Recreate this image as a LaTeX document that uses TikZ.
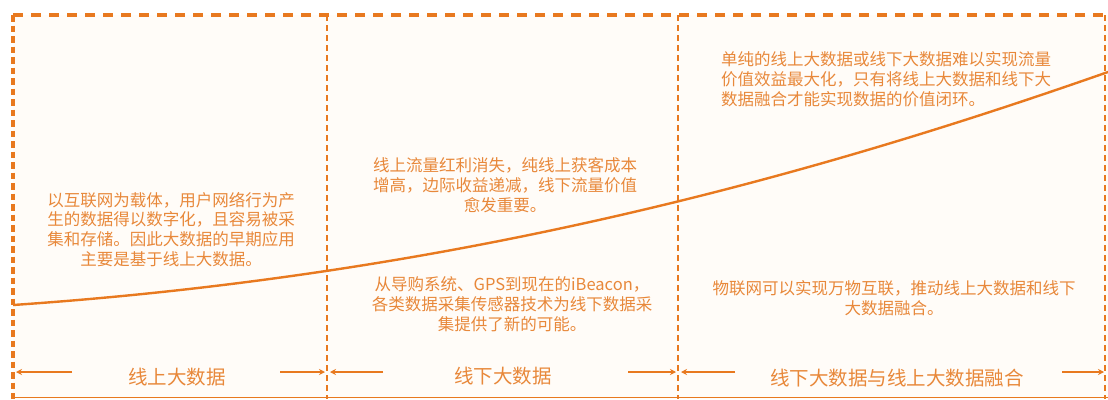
\documentclass[tikz,border=0pt]{standalone}
\usepackage{fontspec}
\newfontfamily\cjk{Noto Sans CJK SC}
\usetikzlibrary{arrows.meta,positioning}
\definecolor{amber}{HTML}{E8791F}
\definecolor{amberText}{HTML}{E8883A}
\definecolor{cream}{HTML}{FFFCF8}

\begin{document}
\begin{tikzpicture}[x=1pt, y=-1pt,
        noteText/.style={font=\cjk\fontsize{16.5}{19.8}\selectfont, text=amberText, align=center, inner sep=0pt},
        stageLabel/.style={font=\cjk\fontsize{19.5}{22}\selectfont, text=amberText, inner sep=0pt},
        frameLine/.style={draw=amber, line width=3.2pt, dash pattern=on 10pt off 8pt},
        sideLine/.style={draw=amber, line width=4pt, dash pattern=on 6.5pt off 4pt},
        splitLine/.style={draw=amber, line width=1.9pt, dash pattern=on 6pt off 4pt},
        spanArrow/.style={-{Stealth[length=6pt,width=6pt]}, line width=2pt, draw=amber}
    ]
        \useasboundingbox (0,0) rectangle (1108,399);
        \fill[cream] (13,15) rectangle (1108,399);

        % Rahmen und Trennlinien
        \coordinate (topL) at (13,15);
        \coordinate (topR) at (1108,15);
        \coordinate (botL) at (13,399);
        \coordinate (divA) at (327,15);
        \coordinate (divAb) at (327,399);
        \coordinate (divB) at (678,15);
        \coordinate (divBb) at (678,399);
        \coordinate (edgeR) at (1105,15);
        \coordinate (edgeRb) at (1105,399);
        \draw[frameLine] (topL) -- (topR);
        \draw[sideLine] (topL) -- (botL);
        \draw[splitLine] (divA) -- (divAb);
        \draw[splitLine] (divB) -- (divBb);
        \draw[splitLine] (edgeR) -- (edgeRb);
        \draw[amber, line width=1.5pt] (13,397.5) -- (1108,397.5);

        % Kurve
        \coordinate (curveStart) at (13,305);
        \coordinate (curveEnd) at (1108,72);
        \draw[amber, line width=2.4pt] (curveStart) .. controls (450,275) and (800,180) .. (curveEnd);

        % Texte
        \node[noteText] (onlineNote) at (171,229.5) {以互联网为载体，用户网络行为产\\生的数据得以数字化，且容易被采\\集和存储。因此大数据的早期应用\\主要是基于线上大数据。};
        \node[noteText] (trafficNote) at (505,185) {线上流量红利消失，纯线上获客成本\\增高，边际收益递减，线下流量价值\\愈发重要。};
        \node[noteText] (sensorNote) at (512,304) {从导购系统、GPS到现在的iBeacon，\\各类数据采集传感器技术为线下数据采\\集提供了新的可能。};
        \node[noteText, align=left, anchor=west] (fusionNote) at (721,79) {单纯的线上大数据或线下大数据难以实现流量\\价值效益最大化，只有将线上大数据和线下大\\数据融合才能实现数据的价值闭环。};
        \node[noteText] (iotNote) at (894,298) {物联网可以实现万物互联，推动线上大数据和线下\\大数据融合。};

        % Phasen
        \node[stageLabel] (onlineLabel) at (177,377) {线上大数据};
        \node[stageLabel] (offlineLabel) at (503,376) {线下大数据};
        \node[stageLabel] (mergeLabel) at (897,378) {线下大数据与线上大数据融合};

        \coordinate (tailA1) at (72,372);
        \coordinate (tipA1) at (16,372);
        \coordinate (tailA2) at (280,372);
        \coordinate (tipA2) at (325,372);
        \coordinate (tailB1) at (383,372);
        \coordinate (tipB1) at (330,372);
        \coordinate (tailB2) at (628,372);
        \coordinate (tipB2) at (676,372);
        \coordinate (tailC1) at (735,372);
        \coordinate (tipC1) at (681,372);
        \coordinate (tailC2) at (1062,372);
        \coordinate (tipC2) at (1104,372);
        \draw[spanArrow] (tailA1) -- (tipA1);
        \draw[spanArrow] (tailA2) -- (tipA2);
        \draw[spanArrow] (tailB1) -- (tipB1);
        \draw[spanArrow] (tailB2) -- (tipB2);
        \draw[spanArrow] (tailC1) -- (tipC1);
        \draw[spanArrow] (tailC2) -- (tipC2);
    \end{tikzpicture}
\end{document}
